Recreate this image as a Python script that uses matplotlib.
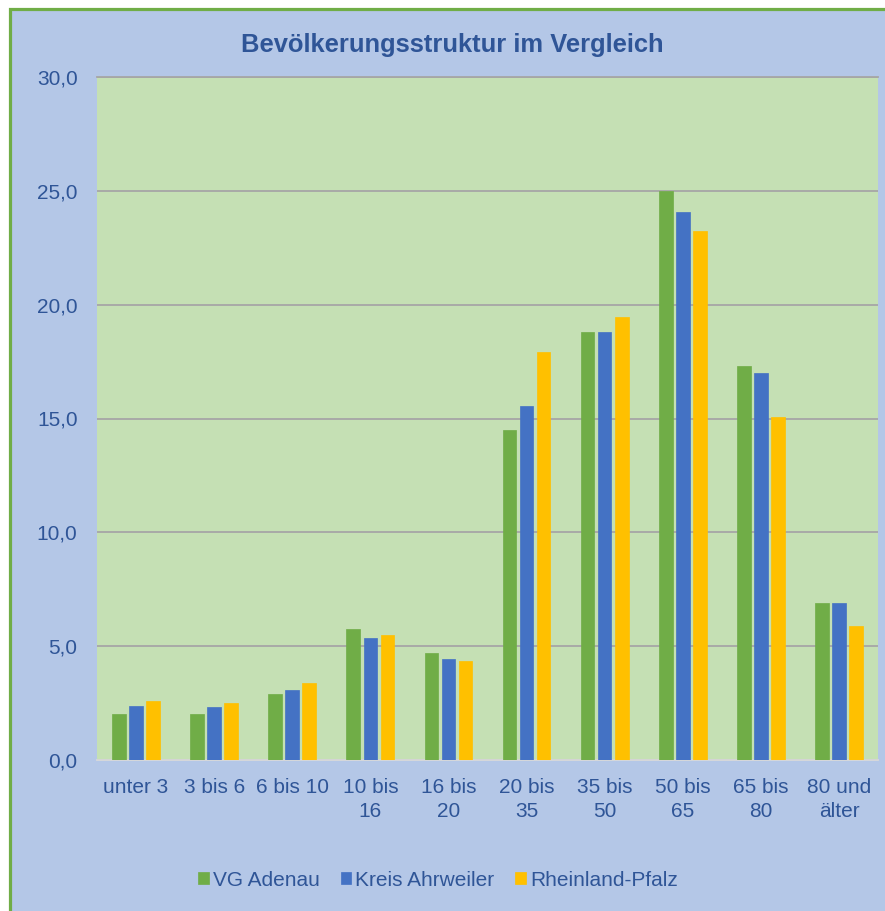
import numpy as np
import matplotlib
matplotlib.use('Agg')
import matplotlib.pyplot as plt
from matplotlib.patches import Rectangle
from matplotlib.ticker import FuncFormatter

plt.rcParams['font.family'] = ['Liberation Sans', 'DejaVu Sans']

# data
categories = ['unter 3', '3 bis 6', '6 bis 10', '10 bis\n16', '16 bis\n20', '20 bis\n35',
              '35 bis\n50', '50 bis\n65', '65 bis\n80', '80 und\nälter']
vg_adenau = [2.0, 2.02, 2.92, 5.75, 4.68, 14.5, 18.8, 25.0, 17.3, 6.9]
kreis_ahrweiler = [2.36, 2.33, 3.08, 5.38, 4.45, 15.55, 18.78, 24.05, 16.98, 6.9]
rheinland_pfalz = [2.57, 2.5, 3.38, 5.5, 4.34, 17.9, 19.47, 23.22, 15.06, 5.9]
series_names = ['VG Adenau', 'Kreis Ahrweiler', 'Rheinland-Pfalz']
colors = ['#70AD47', '#4472C4', '#FFC000']

text_color = '#2F5597'
W, H = 885, 911

fig = plt.figure(figsize=(W / 100, H / 100), dpi=100, facecolor='white')
# background panel with green border on top / left
fig.patches.append(Rectangle((9.5 / W, -0.1), 1.2, (H - 8.5) / H + 0.1, transform=fig.transFigure,
                             facecolor='#B4C7E7', edgecolor='#70AD47', linewidth=2.3, zorder=-10))

ax = fig.add_axes([97 / W, (H - 760) / H, (878 - 97) / W, (760 - 77) / H])
ax.set_facecolor('#C5E0B4')

x = np.arange(len(categories))
bw = 0.175
off = 0.218
for i, (vals, name, c) in enumerate(zip([vg_adenau, kreis_ahrweiler, rheinland_pfalz], series_names, colors)):
    ax.bar(x + (i - 1) * off, vals, bw, color=c, label=name, zorder=3,
           edgecolor=c, linewidth=0.5)

ax.set_xlim(-0.5, len(categories) - 0.5)
ax.set_ylim(0, 30)
ax.set_yticks(np.arange(0, 31, 5))
ax.yaxis.set_major_formatter(FuncFormatter(lambda v, p: f'{v:.1f}'.replace('.', ',')))
ax.set_xticks(x)
ax.set_xticklabels(categories, linespacing=1.35)
ax.grid(axis='y', color='#A6A6A6', linewidth=1.3, zorder=1)
ax.set_axisbelow(True)
ax.tick_params(axis='both', length=0, labelsize=15, labelcolor=text_color)
ax.tick_params(axis='x', pad=13)
ax.tick_params(axis='y', pad=14)
for s in ['right', 'left']:
    ax.spines[s].set_visible(False)
ax.spines['top'].set_color('#A6A6A6')
ax.spines['top'].set_linewidth(1.3)
ax.spines['bottom'].set_color('#D9D9D9')
ax.spines['bottom'].set_linewidth(1.3)

fig.text(452 / W, 1 - 45 / H, 'Bevölkerungsstruktur im Vergleich', ha='center', va='center',
         fontsize=18.4, fontweight='bold', color=text_color)

fig.legend(loc='center', bbox_to_anchor=(438 / W, 1 - 880 / H), ncol=3, frameon=False,
           fontsize=15, labelcolor=text_color, handlelength=0.5, handleheight=0.5,
           handletextpad=0.2, columnspacing=1.0)

fig.savefig('out.png', dpi=100, facecolor='white')
